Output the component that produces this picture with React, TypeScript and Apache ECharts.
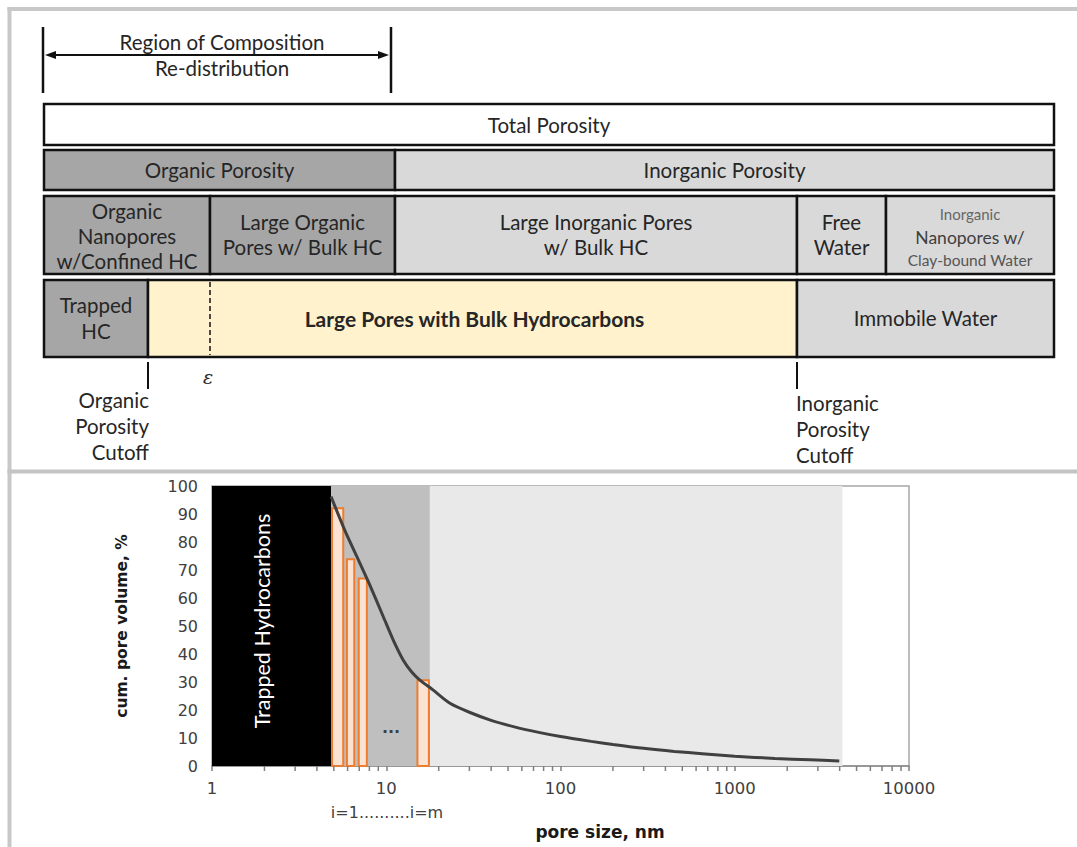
import React, { useEffect, useRef } from "react";
import * as echarts from "echarts";

// ---- Bottom chart data ----
const poreSize = [4.82, 5.8, 6.76, 7.87, 9.62, 11, 12.5, 14, 15.6, 18.6, 23.2, 30, 40, 55, 75, 100, 150, 200, 300, 450, 650, 1000, 1700, 2700, 3980];
const cumVolume = [96.2, 84.0, 75.0, 66.0, 53.3, 44.8, 37.9, 33.6, 30.7, 27.1, 22.4, 19.2, 16.3, 13.9, 12.0, 10.5, 8.8, 7.7, 6.3, 5.2, 4.4, 3.5, 2.7, 2.2, 1.8];
const barStart = [4.82, 5.87, 6.86, 14.9];
const barEnd = [5.74, 6.64, 7.84, 17.8];
const barValue = [92.4, 74.2, 67.3, 31];
const regionEdges = [1, 4.82, 17.8, 4150];
const minorTickValues = [2, 3, 4, 5, 6, 7, 8, 9, 20, 30, 40, 50, 60, 70, 80, 90, 200, 300, 400, 500, 600, 700, 800, 900, 2000, 3000, 4000, 5000, 6000, 7000, 8000, 9000];
const xTitle = "pore size, nm";
const yTitle = "cum. pore volume, %";
const regionLabel = "Trapped Hydrocarbons";
const indexLabel = "i=1..........i=m";

// ---- Top diagram texts ----
const regionTitle = ["Region of Composition", "Re-distribution"];
const row1Text = "Total Porosity";
const row2Text = ["Organic Porosity", "Inorganic Porosity"];
const row3Text = [
  ["Organic", "Nanopores", "w/Confined HC"],
  ["Large Organic", "Pores w/ Bulk HC"],
  ["Large Inorganic Pores", "w/ Bulk HC"],
  ["Free", "Water"],
  ["Inorganic", "Nanopores w/", "Clay-bound Water"],
];
const row4Text = [["Trapped", "HC"], ["Large Pores with Bulk Hydrocarbons"], ["Immobile Water"]];
const cutoffLeft = ["Organic", "Porosity", "Cutoff"];
const cutoffRight = ["Inorganic", "Porosity", "Cutoff"];

const DARK = "#a6a6a6";
const LIGHT = "#d9d9d9";
const YELLOW = "#fff2cc";
const TXT = "#262626";
const FONT = "Lato";
const FS = 20.5;

function txt(x: number, y: number, text: string, opt: any = {}) {
  const align = opt.align || "center";
  const size = opt.size || FS;
  return {
    type: "text",
    x,
    y,
    rotation: opt.rotation || 0,
    silent: true,
    z: 100,
    style: {
      text,
      fill: opt.fill || TXT,
      font: `${opt.style || "normal"} ${opt.weight || "normal"} ${size}px ${opt.family || FONT}`,
      fontSize: size,
      fontFamily: opt.family || FONT,
      fontWeight: opt.weight || "normal",
      fontStyle: opt.style || "normal",
      align,
      verticalAlign: "middle",
      textAlign: align,
      textVerticalAlign: "middle",
    },
  };
}

function box(x0: number, y0: number, x1: number, y1: number, fill: string) {
  return {
    type: "rect",
    silent: true,
    z: 50,
    shape: { x: x0, y: y0, width: x1 - x0, height: y1 - y0 },
    style: { fill, stroke: "#111", lineWidth: 2.5 },
  };
}

function vline(x: number, y0: number, y1: number, w = 2, dash?: number[]) {
  return {
    type: "line",
    silent: true,
    z: 60,
    shape: { x1: x, y1: y0, x2: x, y2: y1 },
    style: { stroke: "#111", lineWidth: w, lineDash: dash || null },
  };
}

export default function App() {
  const ref = useRef<HTMLDivElement>(null);
  useEffect(() => {
    const chart = echarts.init(ref.current!, undefined, { renderer: "svg" });

    const L = 44, R = 1054;
    const graphics: any[] = [];
    // page frame
    graphics.push({ type: "rect", silent: true, shape: { x: 7.5, y: 7, width: 4, height: 840 }, style: { fill: "#c8c8c8" } });
    graphics.push({ type: "rect", silent: true, shape: { x: 7.5, y: 7, width: 1070, height: 4 }, style: { fill: "#c8c8c8" } });
    graphics.push({ type: "rect", silent: true, shape: { x: 7.5, y: 469.5, width: 1070, height: 4 }, style: { fill: "#c4c4c4" } });

    // region of composition arrow
    graphics.push(vline(43, 27, 93, 2.5));
    graphics.push(vline(391, 27, 93, 2.5));
    graphics.push({ type: "line", silent: true, shape: { x1: 52, y1: 55, x2: 382, y2: 55 }, style: { stroke: "#111", lineWidth: 2 } });
    graphics.push({ type: "polygon", silent: true, shape: { points: [[45, 55], [56, 51], [56, 59]] }, style: { fill: "#111" } });
    graphics.push({ type: "polygon", silent: true, shape: { points: [[389, 55], [378, 51], [378, 59]] }, style: { fill: "#111" } });
    graphics.push(txt(222, 42, regionTitle[0]));
    graphics.push(txt(222, 68, regionTitle[1]));

    // row 1
    graphics.push(box(L, 104, R, 145, "#ffffff"));
    graphics.push(txt((L + R) / 2, 125, row1Text));
    // row 2
    graphics.push(box(L, 150, 395, 190, DARK));
    graphics.push(box(395, 150, R, 190, LIGHT));
    graphics.push(txt((L + 395) / 2, 170, row2Text[0]));
    graphics.push(txt((395 + R) / 2, 170, row2Text[1]));
    // row 3
    const r3 = [L, 210, 395, 797, 886, R];
    const r3fill = [DARK, DARK, LIGHT, LIGHT, LIGHT];
    for (let i = 0; i < 5; i++) graphics.push(box(r3[i], 196, r3[i + 1], 274, r3fill[i]));
    row3Text.forEach((lines, i) => {
      const cx = (r3[i] + r3[i + 1]) / 2;
      if (i === 4) {
        graphics.push(txt(cx, 214, lines[0], { size: 15, fill: "#666" }));
        graphics.push(txt(cx, 237, lines[1], { size: 17.5, fill: "#404040" }));
        graphics.push(txt(cx, 260, lines[2], { size: 15.5, fill: "#555" }));
      } else if (lines.length === 3) {
        lines.forEach((s, k) => graphics.push(txt(cx, 211 + k * 25, s)));
      } else {
        lines.forEach((s, k) => graphics.push(txt(cx, 222 + k * 25, s)));
      }
    });
    // row 4
    const r4 = [L, 148, 797, R];
    const r4fill = [DARK, YELLOW, LIGHT];
    for (let i = 0; i < 3; i++) graphics.push(box(r4[i], 280, r4[i + 1], 357, r4fill[i]));
    graphics.push(vline(210, 282, 355, 1.5, [5, 3]));
    graphics.push(txt((L + 148) / 2, 305, row4Text[0][0]));
    graphics.push(txt((L + 148) / 2, 331, row4Text[0][1]));
    graphics.push(txt((148 + 797) / 2 + 2, 318, row4Text[1][0], { weight: "bold", size: 21 }));
    graphics.push(txt((797 + R) / 2, 318, row4Text[2][0]));
    // cutoffs
    graphics.push(vline(148, 362, 389, 2));
    graphics.push(vline(797, 362, 389, 2));
    graphics.push(txt(208, 377, "ε", { family: "DejaVu Serif", style: "italic", size: 19 }));
    cutoffLeft.forEach((s, k) => graphics.push(txt(149, 400 + k * 26, s, { align: "right" })));
    cutoffRight.forEach((s, k) => graphics.push(txt(796, 403 + k * 26, s, { align: "left" })));

    // bottom chart annotations
    graphics.push(txt(262, 621, regionLabel, { size: 21.5, fill: "#ffffff", rotation: Math.PI / 2 }));
    graphics.push(txt(391, 727, "...", { size: 16, family: "DejaVu Sans", fill: "#404040", weight: "bold" }));
    graphics.push(txt(387, 812, indexLabel, { size: 16, family: "DejaVu Sans", fill: "#404040" }));
    graphics.push(txt(600, 832, xTitle, { size: 17, family: "DejaVu Sans", fill: "#1a1a1a", weight: "bold" }));

    const regionFills = ["#000000", "#bfbfbf", "#e9e9e9"];
    const markData = regionFills.map((c, i) => [
      { xAxis: regionEdges[i], yAxis: 0, itemStyle: { color: c } },
      { xAxis: regionEdges[i + 1], yAxis: 100 },
    ]);

    const option: any = {
      animation: false,
      grid: {
        left: 212, top: 486, width: 697, height: 280,
        show: true, borderColor: "#a6a6a6", borderWidth: 1.5, backgroundColor: "transparent",
      },
      xAxis: {
        type: "log", logBase: 10, min: 1, max: 10000,
        axisLine: { show: true, lineStyle: { color: "#8c8c8c", width: 1.5 } },
        axisTick: { show: true, length: 5, lineStyle: { color: "#7f7f7f", width: 1.5 } },
        splitLine: { show: false },
        minorTick: { show: false },
        axisLabel: {
          margin: 14, color: "#404040", fontFamily: "DejaVu Sans", fontSize: 16.5,
          formatter: (v: number) => String(Math.round(v)),
        },
      },
      yAxis: {
        type: "value", min: 0, max: 100, interval: 10,
        axisLine: { show: false }, axisTick: { show: false }, splitLine: { show: false },
        axisLabel: { margin: 14, color: "#404040", fontFamily: "DejaVu Sans", fontSize: 16 },
        name: yTitle, nameLocation: "middle", nameGap: 82,
        nameTextStyle: { fontFamily: "DejaVu Sans", fontWeight: "bold", fontSize: 15.5, color: "#1a1a1a" },
      },
      graphic: { elements: graphics },
      series: [
        {
          type: "line", data: [], z: 1, silent: true,
          markArea: { silent: true, data: markData },
        },
        {
          type: "custom", z: 3, silent: true,
          encode: { x: [0, 1], y: 2 },
          data: barStart.map((s, i) => [s, barEnd[i], barValue[i]]),
          renderItem: (_p: any, api: any) => {
            const a = api.coord([api.value(0), api.value(2)]);
            const b = api.coord([api.value(1), 0]);
            return {
              type: "rect",
              shape: { x: a[0] + 1, y: a[1] + 1, width: b[0] - a[0] - 2, height: b[1] - a[1] - 1 },
              style: { fill: "#fbe3d4", stroke: "#ed7d31", lineWidth: 2 },
            };
          },
        },
        {
          type: "line", z: 4, silent: true, smooth: 0.25, symbol: "none",
          data: poreSize.map((x, i) => [x, cumVolume[i]]),
          lineStyle: { color: "#404040", width: 3 },
        },
        {
          type: "custom", z: 5, silent: true, clip: false,
          encode: { x: 0, y: 1 },
          data: minorTickValues.map((v) => [v, 0]),
          renderItem: (_p: any, api: any) => {
            const p = api.coord([api.value(0), 0]);
            return {
              type: "line",
              shape: { x1: p[0], y1: p[1], x2: p[0], y2: p[1] + 5 },
              style: { stroke: "#7f7f7f", lineWidth: 1.5 },
            };
          },
        },
      ],
    };
    chart.setOption(option);
    return () => chart.dispose();
  }, []);
  return <div ref={ref} style={{ position: "absolute", left: 0, top: 0, width: 1077, height: 847 }} />;
}
